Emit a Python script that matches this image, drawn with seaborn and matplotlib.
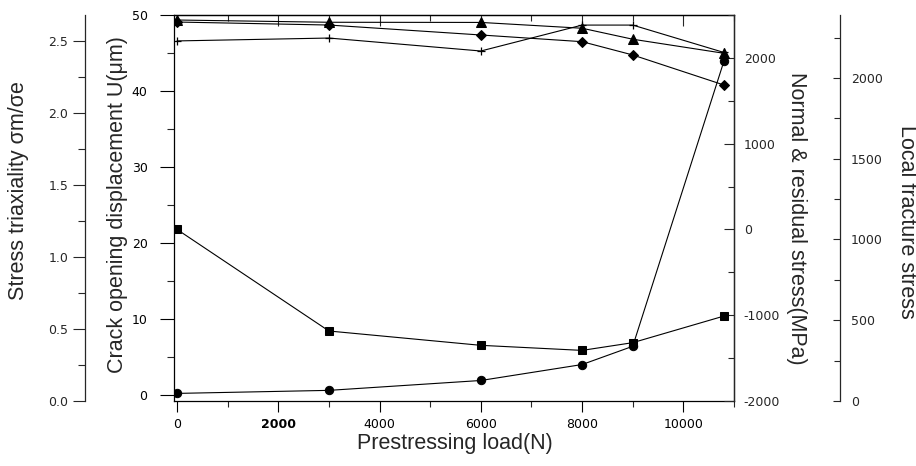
import matplotlib
matplotlib.use("Agg")
import matplotlib.pyplot as plt
import pandas as pd
import seaborn as sns
from matplotlib.ticker import MultipleLocator, FormatStrFormatter

# ---- data ----
load_n = [0, 3000, 6000, 8000, 9000, 10800]
crack_opening_um = [0.2, 0.6, 1.9, 4.0, 6.4, 43.9]
residual_stress_mpa = [0, -1184, -1351, -1410, -1320, -1010]
normal_stress_mpa = [2418, 2383, 2267, 2189, 2034, 1684]
local_fracture_stress = [2359, 2345, 2344, 2308, 2240, 2153]
stress_triaxiality = [2.50, 2.52, 2.43, 2.61, 2.61, 2.42]
x_ticks = [0, 2000, 4000, 6000, 8000, 10000]
x_tick_labels = ["0", "2000", "4000", "6000", "8000", "10000"]

df = pd.DataFrame({
    "load": load_n,
    "crack": crack_opening_um,
    "residual": residual_stress_mpa,
    "normal": normal_stress_mpa,
    "fracture": local_fracture_stress,
    "triax": stress_triaxiality,
})

sns.set_style("ticks")
plt.rcParams["font.family"] = ["Liberation Sans", "DejaVu Sans"]
plt.rcParams["axes.unicode_minus"] = False

W, H = 916, 466
fig = plt.figure(figsize=(W / 100, H / 100), dpi=100)
L, R, T, B = 174, 734, 15, 401
ax = fig.add_axes([L / W, 1 - B / H, (R - L) / W, (B - T) / H])

ax_tri = ax.twinx()
ax_st = ax.twinx()
ax_lf = ax.twinx()

lw = 0.8
common = dict(color="black", linewidth=lw, markeredgecolor="black", legend=False)

sns.lineplot(data=df, x="load", y="crack", ax=ax, marker="o", markersize=6, **common)
sns.lineplot(data=df, x="load", y="residual", ax=ax_st, marker="s", markersize=5.5, **common)
sns.lineplot(data=df, x="load", y="normal", ax=ax_st, marker="D", markersize=5.5, **common)
sns.lineplot(data=df, x="load", y="fracture", ax=ax_lf, marker="^", markersize=7, **common)
sns.lineplot(data=df, x="load", y="triax", ax=ax_tri, marker="+", markersize=6,
             markeredgewidth=0.9, **common)

tick_font = dict(family="DejaVu Sans", size=9)
label_fs = 15.5


def style_ticklabels(a, axis="y"):
    lbls = a.get_yticklabels() if axis == "y" else a.get_xticklabels()
    for t in lbls:
        t.set_fontfamily(tick_font["family"])
        t.set_fontsize(tick_font["size"])


# main axes (crack opening)
ax.set_xlim(-60, 11000)
ax.set_ylim(-0.8, 50)
ax.set_xticks(x_ticks, x_tick_labels)
ax.xaxis.set_minor_locator(MultipleLocator(1000))
ax.yaxis.set_major_locator(MultipleLocator(10))
ax.yaxis.set_minor_locator(MultipleLocator(5))
ax.tick_params(axis="x", which="major", direction="out", length=8, width=0.8, pad=4,
               colors="black")
ax.tick_params(axis="x", which="minor", direction="out", length=4, width=0.8)
ax.tick_params(axis="y", which="major", direction="out", length=10, width=0.8, pad=9,
               colors="black")
ax.tick_params(axis="y", which="minor", direction="out", length=5, width=0.8)
style_ticklabels(ax, "x")
style_ticklabels(ax, "y")
for lbl in ax.get_xticklabels():
    if lbl.get_text() == "2000":
        lbl.set_fontweight("bold")
for s in ax.spines.values():
    s.set_linewidth(0.9)
    s.set_color("black")
ax.set_xlabel("Prestressing load(N)", fontsize=label_fs)
ax.xaxis.set_label_coords((455 - L) / (R - L), -(443 - B) / (B - T))
ax.xaxis.label.set_va("center")
ax.set_ylabel("Crack opening displacement U(μm)", fontsize=label_fs, va="center")
ax.yaxis.set_label_coords((118 - L) / (R - L), (B - 205) / (B - T))

# top ticks pointing inward
top = ax.secondary_xaxis("top")
top.set_xticks(x_ticks)
top.xaxis.set_minor_locator(MultipleLocator(1000))
top.tick_params(which="major", direction="in", length=8, width=0.8, labeltop=False)
top.tick_params(which="minor", direction="in", length=4, width=0.8)
top.spines["top"].set_linewidth(0.9)

# far-left: stress triaxiality
ax_tri.set_ylim(0, 2.68)
ax_tri.yaxis.set_ticks_position("left")
ax_tri.yaxis.set_label_position("left")
for k in ["right", "top", "bottom"]:
    ax_tri.spines[k].set_visible(False)
ax_tri.spines["left"].set_visible(True)
ax_tri.spines["left"].set_position(("axes", (85 - L) / (R - L)))
ax_tri.spines["left"].set_linewidth(0.9)
ax_tri.yaxis.set_major_locator(MultipleLocator(0.5))
ax_tri.yaxis.set_minor_locator(MultipleLocator(0.25))
ax_tri.yaxis.set_major_formatter(FormatStrFormatter("%.1f"))
ax_tri.tick_params(axis="y", which="major", direction="out", length=9, width=0.8, pad=3)
ax_tri.tick_params(axis="y", which="minor", direction="out", length=5, width=0.8)
style_ticklabels(ax_tri)
ax_tri.set_ylabel("Stress triaxiality σm/σe", fontsize=label_fs, va="center")
ax_tri.yaxis.set_label_coords((18 - L) / (R - L), (B - 191) / (B - T))

# right: normal & residual stress
ax_st.set_ylim(-2000, 2500)
for k in ["left", "top", "bottom"]:
    ax_st.spines[k].set_visible(False)
ax_st.spines["right"].set_linewidth(0.9)
ax_st.set_yticks([-2000, -1000, 0, 1000, 2000])
ax_st.yaxis.set_minor_locator(MultipleLocator(500))
ax_st.tick_params(axis="y", which="major", direction="in", length=7, width=0.8, pad=7)
ax_st.tick_params(axis="y", which="minor", direction="in", length=4, width=0.8)
style_ticklabels(ax_st)
ax_st.set_ylabel("Normal & residual stress(MPa)", fontsize=label_fs, rotation=270,
                 va="center")
ax_st.yaxis.set_label_coords((797 - L) / (R - L), (B - 218) / (B - T))

# far-right: local fracture stress
ax_lf.set_ylim(0, 2390)
for k in ["left", "top", "bottom"]:
    ax_lf.spines[k].set_visible(False)
ax_lf.spines["right"].set_position(("axes", (840 - L) / (R - L)))
ax_lf.spines["right"].set_linewidth(0.9)
ax_lf.set_yticks([0, 500, 1000, 1500, 2000])
ax_lf.yaxis.set_minor_locator(MultipleLocator(250))
ax_lf.tick_params(axis="y", which="major", direction="in", length=5, width=0.8, pad=8)
ax_lf.tick_params(axis="y", which="minor", direction="in", length=4, width=0.8)
style_ticklabels(ax_lf)
ax_lf.set_ylabel("Local fracture stress", fontsize=label_fs, rotation=270, va="center")
ax_lf.yaxis.set_label_coords((907 - L) / (R - L), (B - 222) / (B - T))

for a in [ax, ax_tri, ax_st, ax_lf]:
    a.set_xlim(-60, 11000)

fig.savefig("out.png", dpi=100)
